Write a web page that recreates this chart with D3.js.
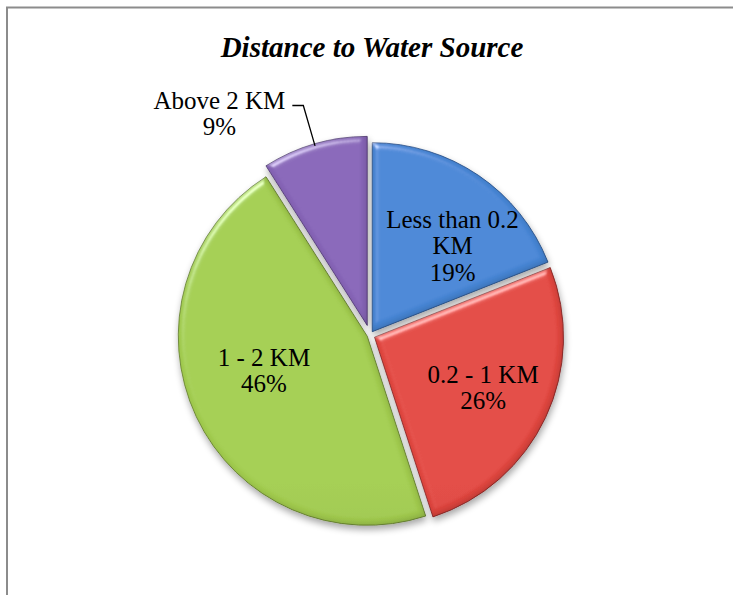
<!DOCTYPE html>
<html>
<head>
<meta charset="utf-8">
<script src="https://cdn.jsdelivr.net/npm/d3@7"></script>
<style>
  body { margin: 0; background: #fff; }
  svg { display: block; }
  text { font-family: "Liberation Serif", "Times New Roman", serif; fill: #000; }
</style>
</head>
<body>
<svg id="chart"></svg>
<script>
/*
    DATA
*/
var title = "Distance to Water Source";
var categories = ["Less than 0.2 KM", "0.2 - 1 KM", "1 - 2 KM", "Above 2 KM"];
var shares = [19, 26, 46, 9];
// how the labels wrap in the picture
var labelLines = [["Less than 0.2", "KM"], ["0.2 - 1 KM"], ["1 - 2 KM"], ["Above 2 KM"]];

/*
    LAYOUT + STYLE
*/
var width = 733, height = 595;
var cx = 370, cy = 335, radius = 189;
var explode = [4, 5, 3, 10];            // px each slice is pulled out
var labelRadius = [118, 120, 112, 0];
var labelNudge = [[14, 12], [0, 0], [-2, -13], [0, 0]];
var outside = [false, false, false, true];
var topColors = ["#4686d6", "#e2463f", "#a3cd4f", "#8765b8"];
var bottomColors = ["#2e62a8", "#a62f2c", "#7f9f38", "#674992"];
var edgeColors = ["#284f86", "#862624", "#637d2c", "#523a75"];
var lineH = 26.5;

var svg = d3.select("#chart")
    .attr("width", width)
    .attr("height", height);

var defs = svg.append("defs");

// slice gradients over the whole pie height
categories.forEach(function(c, i) {
  var g = defs.append("linearGradient")
      .attr("id", "grad" + i)
      .attr("gradientUnits", "userSpaceOnUse")
      .attr("x1", 0).attr("y1", cy - radius)
      .attr("x2", 0).attr("y2", cy + radius);
  g.append("stop").attr("offset", "0%").attr("stop-color", topColors[i]);
  g.append("stop").attr("offset", "100%").attr("stop-color", bottomColors[i]);
});

// rough bevel + soft shadow like the office chart
var f = defs.append("filter").attr("id", "bevel")
    .attr("x", "-10%").attr("y", "-10%").attr("width", "120%").attr("height", "125%");
f.append("feGaussianBlur").attr("in", "SourceAlpha").attr("stdDeviation", 3).attr("result", "blur");
var spec = f.append("feSpecularLighting").attr("in", "blur")
    .attr("surfaceScale", 4).attr("specularConstant", 0.45).attr("specularExponent", 28)
    .attr("lighting-color", "#ffffff").attr("result", "spec");
spec.append("feDistantLight").attr("azimuth", 235).attr("elevation", 35);
f.append("feComposite").attr("in", "spec").attr("in2", "SourceAlpha").attr("operator", "in").attr("result", "specIn");
// inner dark edge
f.append("feOffset").attr("in", "blur").attr("dx", -2).attr("dy", -2).attr("result", "blurOff");
f.append("feComposite").attr("in", "SourceAlpha").attr("in2", "blurOff")
    .attr("operator", "arithmetic").attr("k2", 1).attr("k3", -1).attr("result", "edge");
f.append("feFlood").attr("flood-color", "#000").attr("flood-opacity", 0.35).attr("result", "dark");
f.append("feComposite").attr("in", "dark").attr("in2", "edge").attr("operator", "in").attr("result", "shade");
f.append("feComposite").attr("in", "SourceGraphic").attr("in2", "specIn")
    .attr("operator", "arithmetic").attr("k2", 1).attr("k3", 1).attr("result", "lit");
f.append("feComposite").attr("in", "shade").attr("in2", "lit").attr("operator", "over").attr("result", "shaded");
f.append("feGaussianBlur").attr("in", "SourceAlpha").attr("stdDeviation", 3.5).attr("result", "sblur");
f.append("feOffset").attr("in", "sblur").attr("dx", 1).attr("dy", 4).attr("result", "soff");
f.append("feComponentTransfer").attr("in", "soff").attr("result", "sfade")
  .append("feFuncA").attr("type", "linear").attr("slope", 0.35);
var merge = f.append("feMerge");
merge.append("feMergeNode").attr("in", "sfade");
merge.append("feMergeNode").attr("in", "shaded");

// chart area border (right and bottom run off the page)
svg.append("rect")
    .attr("x", 7).attr("y", 7.5)
    .attr("width", width + 20).attr("height", height + 20)
    .attr("fill", "none")
    .attr("stroke", "#8c8c8c")
    .attr("stroke-width", 2);

svg.append("text")
    .attr("x", 372).attr("y", 57)
    .attr("text-anchor", "middle")
    .style("font-size", "29px")
    .style("font-weight", "bold")
    .style("font-style", "italic")
    .text(title);

var pie = d3.pie().sort(null).value(function(d) { return d; });
var arcs = pie(shares);

var arc = d3.arc().innerRadius(0).outerRadius(radius);

function midAngle(d) { return (d.startAngle + d.endAngle) / 2; }
function polar(a, r) { return [Math.sin(a) * r, -Math.cos(a) * r]; }

var slices = svg.append("g")
    .attr("transform", "translate(" + cx + "," + cy + ")");

slices.selectAll("path.slice")
    .data(arcs)
    .enter().append("path")
    .attr("class", "slice")
    .attr("transform", function(d, i) {
      var o = polar(midAngle(d), explode[i]);
      return "translate(" + o[0] + "," + o[1] + ")";
    })
    .attr("d", arc)
    .attr("fill", function(d, i) { return "url(#grad" + i + ")"; })
    .attr("stroke", function(d, i) { return edgeColors[i]; })
    .attr("stroke-width", 0.8)
    .attr("filter", "url(#bevel)");

// labels
var labels = slices.append("g").style("font-size", "25px");

arcs.forEach(function(d, i) {
  var lines = labelLines[i].concat([shares[i] + "%"]);
  var m = midAngle(d);
  var o = polar(m, explode[i]);
  if (!outside[i]) {
    var p = polar(m, labelRadius[i]);
    var x = o[0] + p[0] + labelNudge[i][0];
    var y = o[1] + p[1] + labelNudge[i][1];
    var t = labels.append("text").attr("text-anchor", "middle");
    lines.forEach(function(s, k) {
      t.append("tspan")
          .attr("x", x)
          .attr("y", y + 8 + (k - (lines.length - 1) / 2) * lineH)
          .text(s);
    });
  } else {
    // leader line from the rim to an elbow, then a short dash
    var rim = polar(m, radius - 2);
    var elbow = polar(m, radius + 40);
    var start = [o[0] + rim[0], o[1] + rim[1]];
    var bend = [o[0] + elbow[0], o[1] + elbow[1]];
    var end = [bend[0] - 11, bend[1]];
    labels.append("path")
        .attr("d", d3.line()([start, bend, end]))
        .attr("fill", "none")
        .attr("stroke", "#000")
        .attr("stroke-width", 1.3);
    var t2 = labels.append("text").attr("text-anchor", "middle");
    var first = t2.append("tspan").text(lines[0]);
    var w = first.node().getComputedTextLength();
    var tx = end[0] - 7 - w / 2;
    first.attr("x", tx).attr("y", end[1] + 3);
    lines.slice(1).forEach(function(s, k) {
      t2.append("tspan").attr("x", tx).attr("y", end[1] + 3 + (k + 1) * lineH).text(s);
    });
  }
});
</script>
</body>
</html>
